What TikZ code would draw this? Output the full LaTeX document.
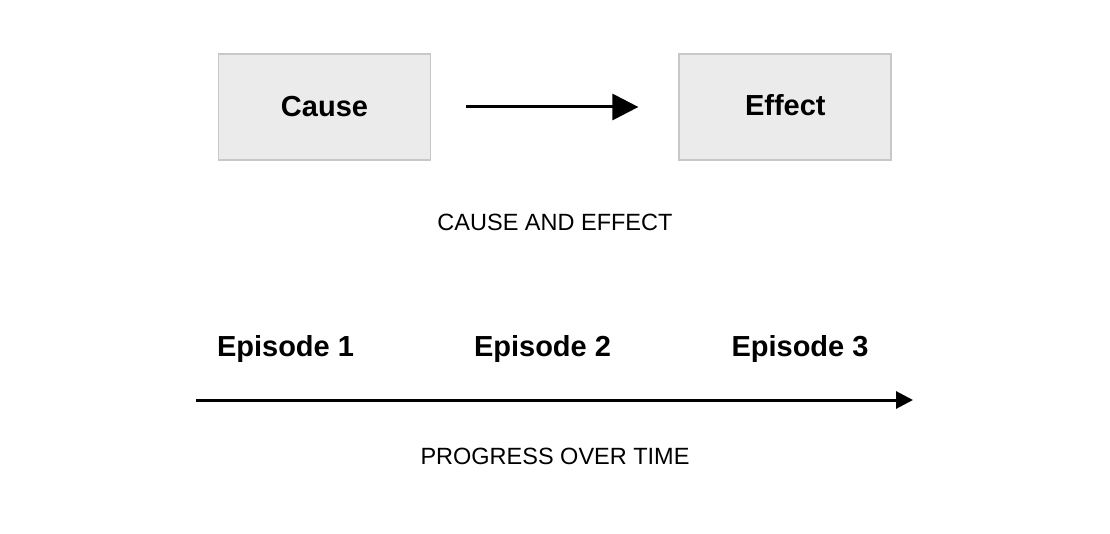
\documentclass[tikz,border=0pt]{standalone}
\usepackage{fontspec}
\setmainfont{Liberation Sans}
\usetikzlibrary{shapes,arrows,arrows.meta}
\usetikzlibrary{positioning}
\definecolor{boxfill}{HTML}{EBEBEB}
\definecolor{boxline}{HTML}{C8C8C8}
\tikzset{auto, x=1pt, y=1pt, node distance=1cm}
\tikzstyle{block} = [draw=boxline, line width=1.8pt, fill=boxfill, rectangle, minimum height=106pt, minimum width=212pt, text centered, font=\fontsize{29}{29}\selectfont\bfseries]
\tikzstyle{episode} = [font=\fontsize{29}{29}\selectfont\bfseries, inner sep=0pt]
\tikzstyle{caption} = [font=\fontsize{23.5}{23.5}\selectfont, inner sep=0pt]
\tikzstyle{input} = [coordinate]
\tikzstyle{output} = [coordinate]

\begin{document}
\begin{tikzpicture}
        \useasboundingbox (0,0) rectangle (1110,-534);
        \node [block] (cause) at (324.5,-107) {Cause};
        \node [block, right=247pt of cause] (effect) {\raisebox{4pt}{Effect}};
        \node [caption] (c_e) at (555,-222) {CAUSE AND EFFECT};

        \node [episode] (ep1) at (285.5,-349) {Episode 1};
        \node [episode] (ep2) at (542.5,-349) {Episode 2};
        \node [episode] (ep3) at (800,-349) {Episode 3};
        \node [input] (t_start) at (196,-400) {};
        \node [output] (t_end) at (913,-400) {};
        \node [caption] (p_t) at (555,-456) {PROGRESS OVER TIME};

        \draw [-{Triangle[length=26pt,width=26pt]}, line width=3pt] ([xshift=35pt]cause.east) -- ([xshift=-40pt]effect.west);
        \draw [-{Triangle[length=17pt,width=17pt]}, line width=3pt] (t_start) -- (t_end);
    \end{tikzpicture}
\end{document}
